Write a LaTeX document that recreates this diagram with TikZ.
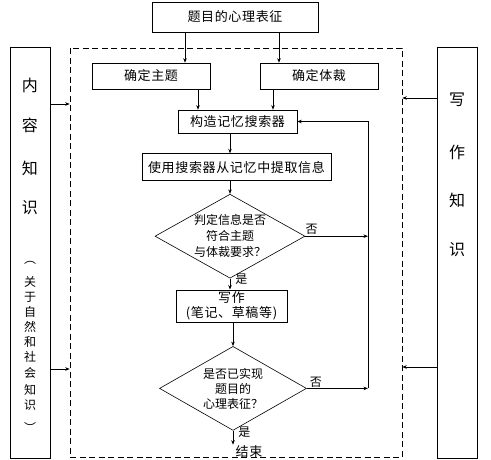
\documentclass[tikz,border=0pt]{standalone}
\usepackage{fontspec}
\setmainfont{Noto Sans CJK SC}
\usepackage{tikz}
\usetikzlibrary{arrows.meta, positioning, shapes.geometric}
\tikzstyle{flowArrow} = [-{Stealth[length=4.5pt,width=3.5pt]}, line width=0.6pt]
\tikzstyle{procBox} = [draw, rectangle, line width=0.6pt, inner sep=1pt,
   font=\fontsize{13}{15}\selectfont\addfontfeature{LetterSpace=5}, align=center]
\tikzstyle{testBox} = [draw, diamond, aspect=1.8, inner sep=0pt, line width=0.6pt,
   font=\fontsize{12}{16}\selectfont, align=center]
\tikzstyle{sideBox} = [draw, rectangle, line width=0.6pt, minimum width=40pt, minimum height=411pt]
\tikzstyle{bigChar} = [font=\fontsize{16}{16}\selectfont, inner sep=0pt]
\tikzstyle{smallChar} = [font=\fontsize{12}{12}\selectfont, inner sep=0pt]
\tikzstyle{yesNo} = [font=\fontsize{12}{12}\selectfont, inner sep=1pt]
\begin{document}
\begin{tikzpicture}[x=1pt, y=-1pt, line width=0.6pt]
  \useasboundingbox (0,0) rectangle (491,460);
  \node[draw, dash pattern=on 6pt off 3.5pt, minimum width=332pt, minimum height=409pt] (frame) at (236,252.5) {};
  \node[sideBox] (content) at (30,252.5) {};
  \node[sideBox] (writing) at (457,252.5) {};
  \node[procBox, minimum width=166pt, minimum height=30pt] (title) at (235,17) {题目的心理表征};
  \node[procBox, minimum width=118pt, minimum height=26pt] (theme) at (151,76) {确定主题};
  \node[procBox, minimum width=118pt, minimum height=26pt] (genre) at (319,76) {确定体裁};
  \node[procBox, minimum width=119pt, minimum height=23pt] (build) at (237.5,121.5) {构造记忆搜索器};
  \node[procBox, minimum width=189pt, minimum height=27pt, below=20pt of build, xshift=-1pt] (search) {使用搜索器从记忆中提取信息};
  \node[testBox, minimum width=150pt, minimum height=84pt, below=13pt of search, xshift=-6.5pt] (check1) {判定信息是否\\符合主题\\与体裁要求？};
  \node[procBox, minimum width=111pt, minimum height=32pt, below=11pt of check1, xshift=1.5pt] (write) {写作\\(笔记、草稿等)};
  \node[testBox, font=\fontsize{12}{15}\selectfont, minimum width=147pt, minimum height=84pt, below=24pt of write, xshift=1.5pt] (check2) {是否已实现\\题目的\\心理表征？};
  \node[procBox, draw=none] (finish) at (249,452) {结束};
  \coordinate (back) at (368,0);
  \draw[flowArrow] ([xshift=34pt]theme.north |- title.south) -- ([xshift=34pt]theme.north);
  \draw[flowArrow] ([xshift=-40pt]genre.north |- title.south) -- ([xshift=-40pt]genre.north);
  \draw[flowArrow] ([xshift=-39.5pt]build.north |- theme.south) -- ([xshift=-39.5pt]build.north);
  \draw[flowArrow] ([xshift=35.5pt]build.north |- genre.south) -- ([xshift=35.5pt]build.north);
  \draw[flowArrow] (check1.north |- build.south) -- (check1.north |- search.north);
  \draw[flowArrow] (check1.north |- search.south) -- (check1.north);
  \draw[flowArrow] (check1.south) -- node[yesNo, right, pos=0.1, xshift=4pt] {是} (check1.south |- write.north);
  \draw[flowArrow] (check2.north |- write.south) -- (check2.north);
  \draw[flowArrow] (check2.south) -- node[yesNo, right, pos=0.1, xshift=4pt] {是} (check2.south |- finish.north);
  % back to the search builder
  \draw[flowArrow] (check1.east) -- node[yesNo, above, pos=0.1] {否} (check1.east -| back);
  \draw[flowArrow] (check2.east) -- node[yesNo, above, pos=0.15] {否} (check2.east -| back);
  \draw[flowArrow] (check2.east -| back) |- (build.east);
  % knowledge feeding the frame
  \draw[flowArrow] (content.east |- 0,104) -- (frame.west |- 0,104);
  \draw[flowArrow] (content.east |- 0,369) -- (frame.west |- 0,369);
  \draw[flowArrow] (writing.west |- 0,98) -- (frame.east |- 0,98);
  \draw[flowArrow] (writing.west |- 0,367) -- (frame.east |- 0,367);
  % vertical texts
  \foreach \ch/\y in {内/85, 容/125, 知/168, 识/208}
    \node[bigChar] (inner\y) at (30,\y) {\ch};
  \foreach \ch/\y in {︵/263, 关/282, 于/297, 自/312, 然/327, 和/342, 社/357, 会/373, 知/390, 识/405, ︶/427}
    \node[smallChar] (note\y) at (30,\y) {\ch};
  \foreach \ch/\y in {写/100, 作/152, 知/200, 识/250}
    \node[bigChar] (skill\y) at (457,\y) {\ch};
\end{tikzpicture}
\end{document}
